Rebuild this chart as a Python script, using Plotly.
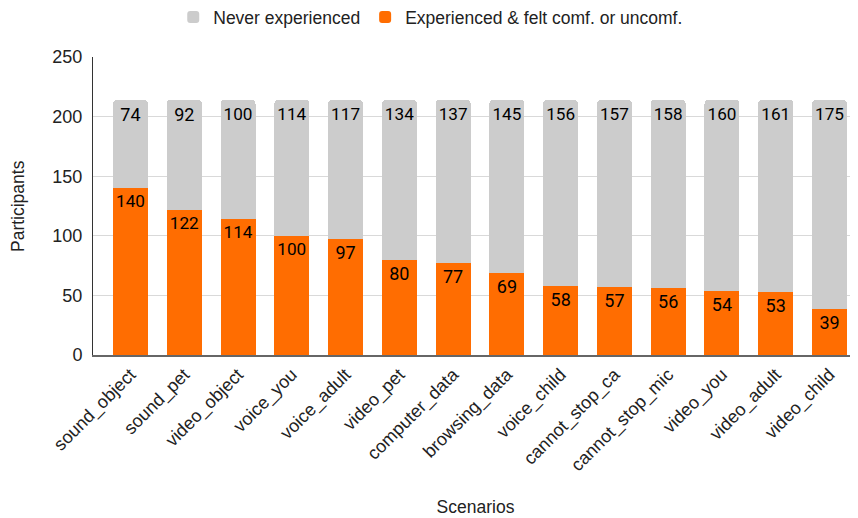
import plotly.graph_objects as go

scenarios = ["sound_object", "sound_pet", "video_object", "voice_you", "voice_adult",
             "video_pet", "computer_data", "browsing_data", "voice_child", "cannot_stop_ca",
             "cannot_stop_mic", "video_you", "video_adult", "video_child"]
experienced = [140, 122, 114, 100, 97, 80, 77, 69, 58, 57, 56, 54, 53, 39]
never = [74, 92, 100, 114, 117, 134, 137, 145, 156, 157, 158, 160, 161, 175]

fig = go.Figure()
fig.add_trace(go.Bar(
    x=scenarios, y=experienced, name="Experienced & felt comf. or uncomf.",
    marker=dict(color="#ff6d01", line=dict(width=0)),
    text=[str(v) for v in experienced], textposition="inside", insidetextanchor="end",
    textangle=0, textfont=dict(family="Roboto", size=18, color="#000000"),
))
fig.add_trace(go.Bar(
    x=scenarios, y=never, name="Never experienced",
    marker=dict(color="#cccccc", line=dict(width=0)),
    text=[str(v) for v in never], textposition="inside", insidetextanchor="end",
    textangle=0, textfont=dict(family="Roboto", size=18, color="#000000"),
))

fig.update_layout(
    barmode="stack", bargap=0.35, barcornerradius=4,
    width=850, height=510,
    margin=dict(l=85, r=0, t=49, b=163, autoexpand=False),
    plot_bgcolor="white", paper_bgcolor="white",
    font=dict(family="Liberation Sans, Arial", size=17.5, color="#222222"),
    legend=dict(orientation="h", x=0.4415, xanchor="center",
                y=1.134, yanchor="middle",
                traceorder="reversed",
                font=dict(size=17.5, color="#222222")),
    uniformtext=dict(mode=False),
    annotations=[dict(text="Participants", textangle=-90, xref="paper", yref="paper",
                      x=-0.098, y=0.5, xanchor="center", yanchor="middle",
                      showarrow=False, font=dict(size=17.5, color="#222222"))],
)
fig.update_yaxes(range=[0, 250], dtick=50, showgrid=True, gridcolor="#d9d9d9",
                 showline=True, linecolor="#333333", linewidth=1, ticks="",
                 automargin=False, ticklabelstandoff=6,
                 tickfont=dict(size=18, color="#222222"), zeroline=False)
fig.update_xaxes(showline=True, linecolor="#666666", linewidth=2, tickangle=-45,
                 automargin=False, range=[-0.697, 13.53],
                 tickfont=dict(size=18, color="#222222"),
                 title=dict(text="Scenarios", font=dict(size=17.5), standoff=26))

fig.write_html("out.html")
